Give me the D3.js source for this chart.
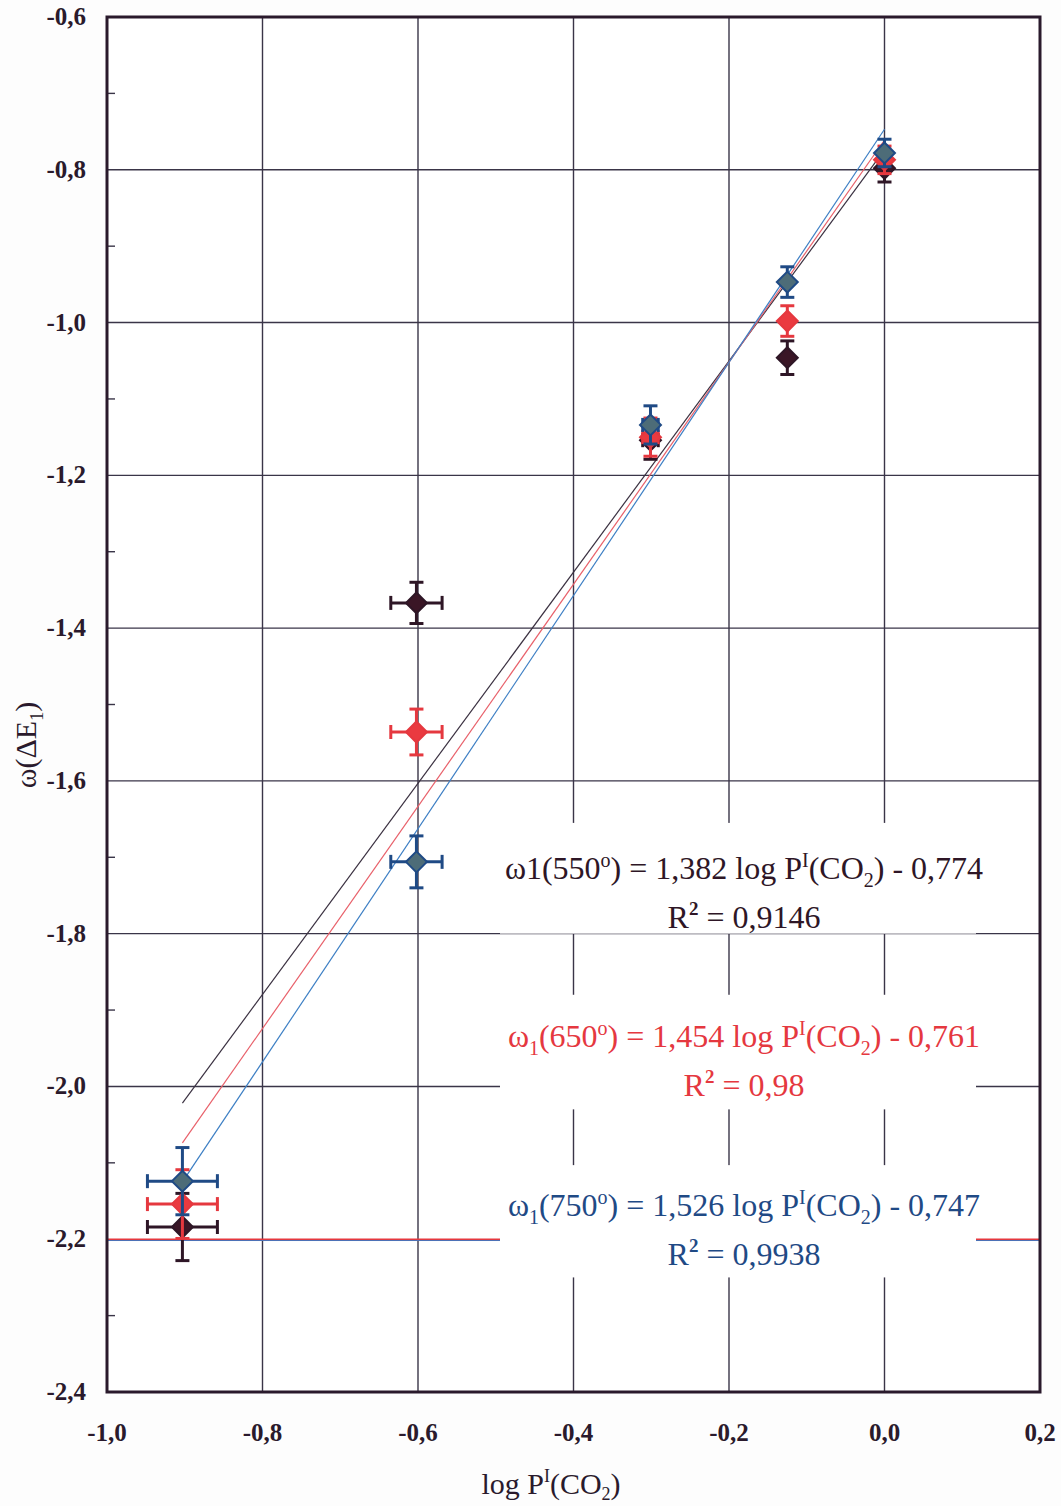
<!DOCTYPE html>
<html>
<head>
<meta charset="utf-8">
<script src="https://cdn.jsdelivr.net/npm/d3@7"></script>
<style>
  body { margin: 0; background: #fdfdfd; }
  text { font-family: "Liberation Serif", "Times New Roman", serif; }
</style>
</head>
<body>
<div id="chart"></div>
<script>

// x values: log P(CO2)
let logP = [-0.903, -0.602, -0.301, -0.125, 0.0];

// series values
let w550 = [-2.184, -1.367, -1.154, -1.046, -0.798];
let w650 = [-2.154, -1.536, -1.150, -0.998, -0.787];
let w750 = [-2.124, -1.706, -1.134, -0.947, -0.778];

// error bars
let xErr = [0.045, 0.033, 0.010, 0.0, 0.0];
let yErr550 = [0.044, 0.027, 0.025, 0.022, 0.018];
let yErr650 = [0.045, 0.030, 0.025, 0.020, 0.018];
let yErr750 = [0.044, 0.034, 0.025, 0.020, 0.018];

// fit lines: slope, intercept
let fit550 = [1.382, -0.774];
let fit650 = [1.454, -0.761];
let fit750 = [1.526, -0.747];

let xTicks = [-1.0, -0.8, -0.6, -0.4, -0.2, 0.0, 0.2];
let yTicks = [-0.6, -0.8, -1.0, -1.2, -1.4, -1.6, -1.8, -2.0, -2.2, -2.4];
let yMinor = [-0.7, -0.9, -1.1, -1.3, -1.5, -1.7, -1.9, -2.1, -2.3];

let colBlack = "#2e1626", colRed = "#e5383f", colBlue = "#1f4a85";

let width = 1061, height = 1506;
let margin = {top: 17, right: 21, bottom: 114, left: 107};

let svg = d3.select("#chart").append("svg")
    .attr("width", width)
    .attr("height", height);

let x = d3.scaleLinear().domain([-1.0, 0.2]).range([margin.left, width - margin.right]);
let y = d3.scaleLinear().domain([-2.4, -0.6]).range([height - margin.bottom, margin.top]);

let fmt = d => d3.format(".1f")(d).replace(".", ",").replace("−", "-");

// plot background
svg.append("rect")
    .attr("x", x(-1.0)).attr("y", y(-0.6))
    .attr("width", x(0.2) - x(-1.0)).attr("height", y(-2.4) - y(-0.6))
    .attr("fill", "#ffffff");

// grid
svg.append("g").selectAll("line").data(xTicks.slice(1, -1)).join("line")
    .attr("x1", d => x(d)).attr("x2", d => x(d))
    .attr("y1", y(-0.6)).attr("y2", y(-2.4))
    .attr("stroke", "#3a3548").attr("stroke-width", 1.4);

svg.append("g").selectAll("line").data(yTicks.slice(1, -1)).join("line")
    .attr("x1", x(-1.0)).attr("x2", x(0.2))
    .attr("y1", d => y(d)).attr("y2", d => y(d))
    .attr("stroke", d => d === -2.2 ? colRed : "#3a3548").attr("stroke-width", 1.4);

// blue shadow under the -2.2 line
svg.append("line")
    .attr("x1", x(-1.0)).attr("x2", x(0.2))
    .attr("y1", y(-2.2) + 1.3).attr("y2", y(-2.2) + 1.3)
    .attr("stroke", "#4a6fb5").attr("stroke-width", 1);

// minor ticks on y axis
svg.append("g").selectAll("line").data(yMinor).join("line")
    .attr("x1", x(-1.0)).attr("x2", x(-1.0) + 8)
    .attr("y1", d => y(d)).attr("y2", d => y(d))
    .attr("stroke", "#3a3548").attr("stroke-width", 1.4);

// white boxes behind the equations
let boxes = [[-1.655, -1.8], [-1.88, -2.03], [-2.103, -2.25]];
svg.append("g").selectAll("rect").data(boxes).join("rect")
    .attr("x", 500).attr("width", 476)
    .attr("y", d => y(d[0])).attr("height", d => y(d[1]) - y(d[0]))
    .attr("fill", "#ffffff");

// frame
svg.append("rect")
    .attr("x", x(-1.0)).attr("y", y(-0.6))
    .attr("width", x(0.2) - x(-1.0)).attr("height", y(-2.4) - y(-0.6))
    .attr("fill", "none").attr("stroke", "#2a1a2c").attr("stroke-width", 3);

// tick labels
svg.append("g").selectAll("text").data(yTicks).join("text")
    .attr("x", 86).attr("y", d => y(d) + 8)
    .attr("text-anchor", "end")
    .style("font-size", "25px").style("font-weight", "bold").attr("fill", "#2a1a2c")
    .text(fmt);

svg.append("g").selectAll("text").data(xTicks).join("text")
    .attr("x", d => x(d)).attr("y", 1441)
    .attr("text-anchor", "middle")
    .style("font-size", "25px").style("font-weight", "bold").attr("fill", "#2a1a2c")
    .text(fmt);

// axis titles
let xt = svg.append("text").attr("x", 551).attr("y", 1494)
    .attr("text-anchor", "middle").style("font-size", "30px").attr("fill", "#2a1a2c");
xt.append("tspan").text("log P");
xt.append("tspan").attr("dy", -12).style("font-size", "18px").text("I");
xt.append("tspan").attr("dy", 12).text("(CO");
xt.append("tspan").attr("dy", 6).style("font-size", "18px").text("2");
xt.append("tspan").attr("dy", -6).text(")");

let yt = svg.append("text")
    .attr("transform", "translate(36,745) rotate(-90)")
    .attr("text-anchor", "middle").style("font-size", "30px").attr("fill", "#2a1a2c");
yt.append("tspan").text("ω(ΔE");
yt.append("tspan").attr("dy", 7).style("font-size", "18px").text("1");
yt.append("tspan").attr("dy", -7).text(")");

// fit lines
let fits = [
    {f: fit550, c: "#3a3040"},
    {f: fit650, c: "#e8606a"},
    {f: fit750, c: "#3d7fc4"}
];
svg.append("g").selectAll("line").data(fits).join("line")
    .attr("x1", x(logP[0])).attr("x2", x(logP[4]))
    .attr("y1", d => y(d.f[0] * logP[0] + d.f[1]))
    .attr("y2", d => y(d.f[0] * logP[4] + d.f[1]))
    .attr("stroke", d => d.c).attr("stroke-width", 1.2);

// points with error bars
let series = [
    {v: w550, e: yErr550, stroke: colBlack, fill: "#3a1626"},
    {v: w650, e: yErr650, stroke: colRed, fill: "#ea3a40"},
    {v: w750, e: yErr750, stroke: colBlue, fill: "#4d6c78"}
];

let diamond = d3.symbol().type(d3.symbolDiamond2).size(280);

series.forEach(s => {
    let g = svg.append("g");
    let pts = logP.map((d, i) => ({x: d, y: s.v[i], ex: xErr[i], ey: s.e[i]}));
    let cap = 7;

    // vertical bars
    g.selectAll(".vb").data(pts).join("line")
        .attr("x1", d => x(d.x)).attr("x2", d => x(d.x))
        .attr("y1", d => y(d.y - d.ey)).attr("y2", d => y(d.y + d.ey))
        .attr("stroke", s.stroke).attr("stroke-width", 3);
    g.selectAll(".vc1").data(pts).join("line")
        .attr("x1", d => x(d.x) - cap).attr("x2", d => x(d.x) + cap)
        .attr("y1", d => y(d.y - d.ey)).attr("y2", d => y(d.y - d.ey))
        .attr("stroke", s.stroke).attr("stroke-width", 3);
    g.selectAll(".vc2").data(pts).join("line")
        .attr("x1", d => x(d.x) - cap).attr("x2", d => x(d.x) + cap)
        .attr("y1", d => y(d.y + d.ey)).attr("y2", d => y(d.y + d.ey))
        .attr("stroke", s.stroke).attr("stroke-width", 3);

    // horizontal bars
    let hp = pts.filter(d => d.ex > 0);
    g.selectAll(".hb").data(hp).join("line")
        .attr("x1", d => x(d.x - d.ex)).attr("x2", d => x(d.x + d.ex))
        .attr("y1", d => y(d.y)).attr("y2", d => y(d.y))
        .attr("stroke", s.stroke).attr("stroke-width", 3);
    g.selectAll(".hc1").data(hp).join("line")
        .attr("x1", d => x(d.x - d.ex)).attr("x2", d => x(d.x - d.ex))
        .attr("y1", d => y(d.y) - cap).attr("y2", d => y(d.y) + cap)
        .attr("stroke", s.stroke).attr("stroke-width", 3);
    g.selectAll(".hc2").data(hp).join("line")
        .attr("x1", d => x(d.x + d.ex)).attr("x2", d => x(d.x + d.ex))
        .attr("y1", d => y(d.y) - cap).attr("y2", d => y(d.y) + cap)
        .attr("stroke", s.stroke).attr("stroke-width", 3);

    g.selectAll("path").data(pts).join("path")
        .attr("d", diamond)
        .attr("transform", d => `translate(${x(d.x)},${y(d.y)})`)
        .attr("fill", s.fill).attr("stroke", s.stroke).attr("stroke-width", 2);
});

// equations
function equation(yPos, lead, sub, temp, coef, icpt, r2, color) {
    let t = svg.append("text").attr("x", 744).attr("y", yPos)
        .attr("text-anchor", "middle").style("font-size", "32px").attr("fill", color);
    t.append("tspan").text(lead);
    if (sub) {
        t.append("tspan").attr("dy", 8).style("font-size", "20px").text(sub);
        t.append("tspan").attr("dy", -8).text("(" + temp);
    } else {
        t.append("tspan").text("(" + temp);
    }
    t.append("tspan").attr("dy", -12).style("font-size", "20px").text("o");
    t.append("tspan").attr("dy", 12).text(") = " + coef + " log P");
    t.append("tspan").attr("dy", -12).style("font-size", "20px").text("I");
    t.append("tspan").attr("dy", 12).text("(CO");
    t.append("tspan").attr("dy", 8).style("font-size", "20px").text("2");
    t.append("tspan").attr("dy", -8).text(") - " + icpt);

    let r = svg.append("text").attr("x", 744).attr("y", yPos + 49)
        .attr("text-anchor", "middle").style("font-size", "32px").attr("fill", color);
    r.append("tspan").text("R");
    r.append("tspan").attr("dy", -13).style("font-size", "19px").style("font-weight", "bold").text("2");
    r.append("tspan").attr("dy", 13).text(" = " + r2);
}

equation(879, "ω1", null, "550", "1,382", "0,774", "0,9146", colBlack);
equation(1047, "ω", "1", "650", "1,454", "0,761", "0,98", colRed);
equation(1216, "ω", "1", "750", "1,526", "0,747", "0,9938", colBlue);

</script>
</body>
</html>
